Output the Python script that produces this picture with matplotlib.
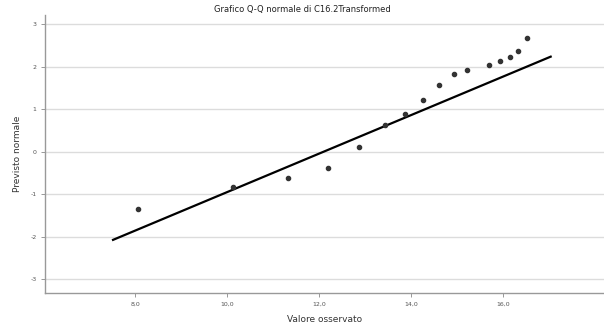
import matplotlib
matplotlib.use("Agg")
import matplotlib.pyplot as plt

title = "Grafico Q-Q normale di C16.2Transformed"
x_label = "Valore osservato"
y_label = "Previsto normale"

observed = [8.06, 10.14, 11.33, 12.20, 12.87, 13.43, 13.87, 14.27, 14.62, 14.93,
            15.21, 15.70, 15.93, 16.15, 16.33, 16.52]
expected = [-1.34, -0.82, -0.62, -0.38, 0.12, 0.64, 0.89, 1.22, 1.58, 1.84,
            1.93, 2.05, 2.13, 2.24, 2.38, 2.68]
line_x = [7.52, 17.04]
line_y = [-2.07, 2.24]

x_ticks = [8, 10, 12, 14, 16]
x_tick_labels = ["8,0", "10,0", "12,0", "14,0", "16,0"]
y_ticks = [-3, -2, -1, 0, 1, 2, 3]
y_tick_labels = ["-3", "-2", "-1", "0", "1", "2", "3"]

fig = plt.figure(figsize=(6.04, 3.26), dpi=100)
ax = fig.add_axes([45/604, 33/326, 559/604, 278/326])

ax.set_xlim(6.04, 18.2)
ax.set_ylim(-3.32, 3.22)
for y in y_ticks:
    ax.axhline(y, color="#dcdcdc", lw=1.0, zorder=0)

ax.plot(line_x, line_y, color="black", lw=1.6, zorder=2)
ax.scatter(observed, expected, s=9, color="#333333", zorder=3)

ax.set_xticks(x_ticks)
ax.set_xticklabels(x_tick_labels, fontsize=4.5, color="#555555")
ax.set_yticks(y_ticks)
ax.set_yticklabels(y_tick_labels, fontsize=4.5, color="#555555")
ax.tick_params(length=3, width=0.6, color="#888888", pad=3)

for s in ["top", "right"]:
    ax.spines[s].set_visible(False)
for s in ["left", "bottom"]:
    ax.spines[s].set_color("#999999")
    ax.spines[s].set_linewidth(1.0)

ax.set_xlabel(x_label, fontsize=6.5, color="#333333", labelpad=6)
ax.set_ylabel(y_label, fontsize=6.5, color="#333333", labelpad=6)
fig.text(0.5, 0.985, title, ha="center", va="top", fontsize=6, color="#222222")

fig.savefig("out.png", dpi=100)
